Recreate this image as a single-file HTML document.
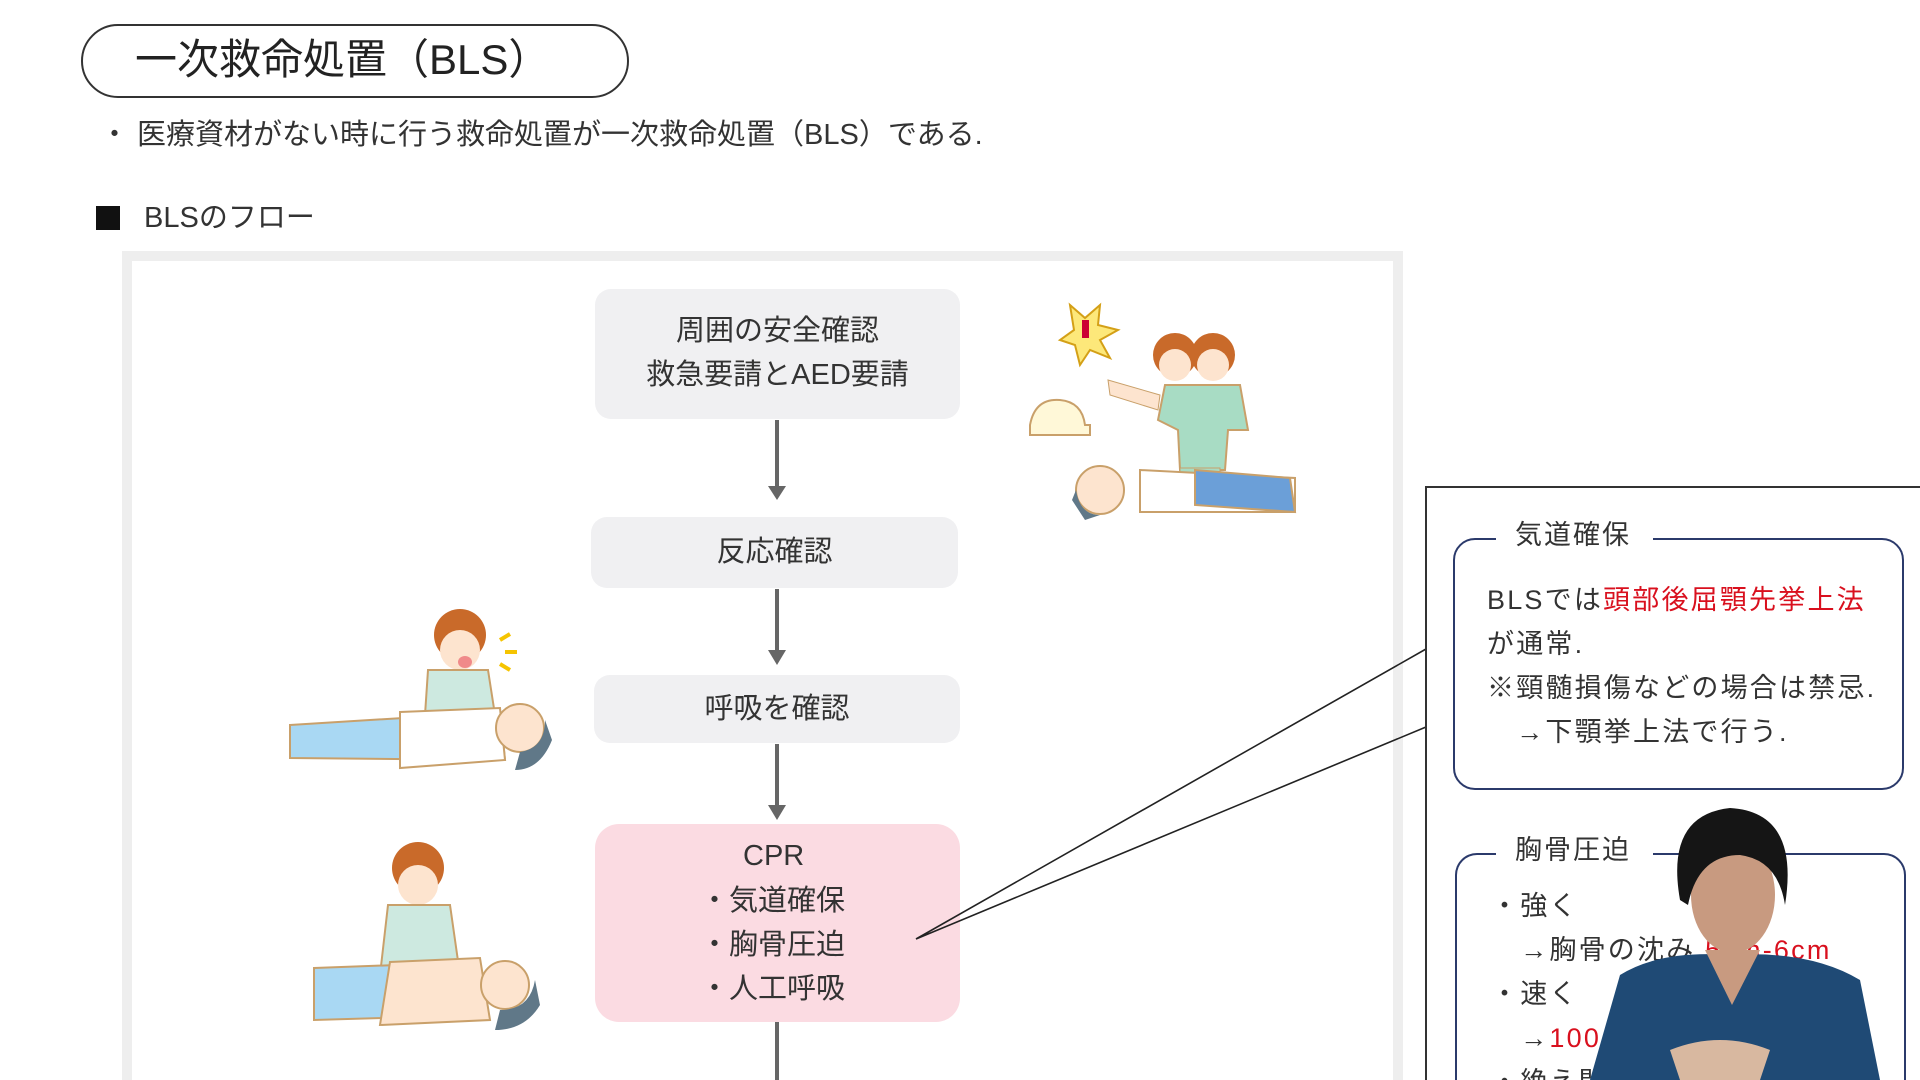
<!DOCTYPE html>
<html style="width:1920px;height:1080px;overflow:hidden"><head><meta charset="utf-8"><style>
*{margin:0;padding:0;box-sizing:border-box}
body{width:1920px;height:1080px;background:#fff;position:relative;overflow:hidden;font-family:"Liberation Sans","Noto Sans CJK JP",sans-serif;color:#333}
#w{position:absolute;left:0;top:0;width:1920px;height:1080px;overflow:hidden}
.a{position:absolute;white-space:nowrap}
.box{position:absolute;background:#f0f0f2;border-radius:16px;text-align:center;font-size:29px;line-height:44px;color:#333}
</style></head><body><div id="w">
<div class="a" style="left:81px;top:24px;width:548px;height:74px;border:2px solid #333;border-radius:37px"></div>
<div class="a" style="left:135px;top:34px;font-size:42px;line-height:52px;color:#222">一次救命処置（BLS）</div>
<div class="a" style="left:100px;top:116px;font-size:29px;line-height:38px">・ 医療資材がない時に行う救命処置が一次救命処置（BLS）である.</div>
<div class="a" style="left:96px;top:206px;width:24px;height:24px;background:#111"></div>
<div class="a" style="left:144px;top:199px;font-size:29px;line-height:38px">BLSのフロー</div>
<div class="a" style="left:122px;top:251px;width:1281px;height:829px;border:10px solid #eeeeee;border-bottom:none;background:#fff"></div>

<div class="box" style="left:595px;top:289px;width:365px;height:130px;padding-top:20px">周囲の安全確認<br>救急要請とAED要請</div>
<div class="box" style="left:591px;top:517px;width:367px;height:71px;padding-top:13px">反応確認</div>
<div class="box" style="left:594px;top:675px;width:366px;height:68px;padding-top:12px">呼吸を確認</div>
<div class="box" style="left:595px;top:824px;width:365px;height:198px;background:#fbdbe2;border-radius:24px"></div>
<div class="a" style="left:743px;top:834px;font-size:29px;line-height:44px">CPR</div>
<div class="a" style="left:700px;top:879px;font-size:29px;line-height:44px">・気道確保<br>・胸骨圧迫<br>・人工呼吸</div>

<svg class="a" style="left:0;top:0" width="1920" height="1080">
<g stroke="#666" stroke-width="4" fill="#666">
<line x1="777" y1="420" x2="777" y2="488"/><path d="M768 486 L786 486 L777 500Z" stroke="none"/>
<line x1="777" y1="589" x2="777" y2="652"/><path d="M768 650 L786 650 L777 665Z" stroke="none"/>
<line x1="777" y1="744" x2="777" y2="806"/><path d="M768 805 L786 805 L777 820Z" stroke="none"/>
<line x1="777" y1="1022" x2="777" y2="1080"/>
</g>
<polyline points="1426,649 916,939 1426,727" fill="none" stroke="#222" stroke-width="1.6"/>
<g>
<path d="M1070 305 L1085 318 L1100 305 L1098 325 L1118 330 L1100 340 L1110 358 L1090 350 L1080 365 L1075 345 L1060 340 L1074 330Z" fill="#fde87a" stroke="#d4a017" stroke-width="2"/>
<rect x="1082" y="320" width="7" height="18" fill="#c03"/>
<circle cx="1175" cy="355" r="22" fill="#c96a2a"/><circle cx="1213" cy="355" r="22" fill="#c96a2a"/>
<circle cx="1175" cy="365" r="16" fill="#fde4cf"/><circle cx="1213" cy="365" r="16" fill="#fde4cf"/>
<path d="M1165 385 L1240 385 L1248 430 L1228 430 L1225 470 L1180 470 L1178 430 L1158 420Z" fill="#a8dcc4" stroke="#c9a06a" stroke-width="2"/>
<path d="M1108 380 L1160 395 L1158 410 L1110 395Z" fill="#fde4cf" stroke="#c9a06a"/>
<rect x="1180" y="468" width="40" height="20" fill="#a8dcc4" stroke="#c9a06a"/>
<path d="M1030 425 Q1035 398 1060 400 Q1082 402 1085 425 L1090 425 L1090 435 L1030 435Z" fill="#fff8d8" stroke="#c9a06a" stroke-width="2"/>
<path d="M1140 470 L1295 478 L1295 512 L1140 512Z" fill="#fff" stroke="#c9a06a" stroke-width="2"/>
<path d="M1195 470 L1290 478 L1295 512 L1195 505Z" fill="#6b9fd8" stroke="#c9a06a" stroke-width="2"/>
<circle cx="1100" cy="490" r="24" fill="#fde4cf" stroke="#c9a06a" stroke-width="2"/>
<path d="M1076 490 Q1080 515 1100 515 L1085 520 L1072 500Z" fill="#607888"/>
</g>
<g>
<circle cx="460" cy="635" r="26" fill="#c96a2a"/><circle cx="460" cy="650" r="20" fill="#fde4cf"/>
<ellipse cx="465" cy="662" rx="7" ry="6" fill="#f08a8a"/>
<path d="M428 670 L488 670 L495 715 L425 715Z" fill="#cde9e0" stroke="#c9a06a" stroke-width="2"/>
<path d="M500 640 l10 -6 M505 652 l12 0 M500 664 l10 6" stroke="#f5c400" stroke-width="4"/>
<path d="M290 725 L500 712 L505 760 L290 758Z" fill="#a9d8f3" stroke="#c9a06a" stroke-width="2"/>
<path d="M400 712 L500 708 L505 760 L400 768Z" fill="#fff" stroke="#c9a06a" stroke-width="2"/>
<circle cx="520" cy="728" r="24" fill="#fde4cf" stroke="#c9a06a" stroke-width="2"/>
<path d="M520 752 Q545 748 545 720 L552 740 Q540 770 515 770Z" fill="#607888"/>
</g>
<g>
<circle cx="418" cy="868" r="26" fill="#c96a2a"/><circle cx="418" cy="885" r="20" fill="#fde4cf"/>
<path d="M388 905 L450 905 L460 975 L380 975Z" fill="#cde9e0" stroke="#c9a06a" stroke-width="2"/>
<path d="M314 968 L480 962 L485 1015 L314 1020Z" fill="#a9d8f3" stroke="#c9a06a" stroke-width="2"/>
<path d="M390 962 L480 958 L490 1020 L380 1025Z" fill="#fde4cf" stroke="#c9a06a" stroke-width="2"/>
<circle cx="505" cy="985" r="24" fill="#fde4cf" stroke="#c9a06a" stroke-width="2"/>
<path d="M500 1010 Q530 1010 535 980 L540 1005 Q525 1030 495 1030Z" fill="#607888"/>
</g>
</svg>

<div class="a" style="left:1425px;top:486px;width:495px;height:594px;border-left:2px solid #333;border-top:2px solid #333;background:#fff"></div>
<div class="a" style="left:1453px;top:538px;width:451px;height:252px;border:2px solid #2b3a6b;border-radius:22px"></div>
<div class="a" style="left:1496px;top:516px;width:157px;height:40px;background:#fff"></div>
<div class="a" style="left:1515px;top:517px;font-size:27px;line-height:36px;letter-spacing:2px">気道確保</div>
<div class="a" style="left:1487px;top:578px;font-size:27px;line-height:44px;letter-spacing:2.2px">BLSでは<span style="color:#d9101e">頭部後屈顎先挙上法</span><br>が通常.<br>※頸髄損傷などの場合は禁忌.<br>　→下顎挙上法で行う.</div>
<div class="a" style="left:1455px;top:853px;width:451px;height:227px;border:2px solid #2b3a6b;border-bottom:none;border-radius:22px 22px 0 0"></div>
<div class="a" style="left:1496px;top:832px;width:157px;height:40px;background:#fff"></div>
<div class="a" style="left:1515px;top:832px;font-size:27px;line-height:36px;letter-spacing:2px">胸骨圧迫</div>
<div class="a" style="left:1491px;top:884px;width:420px;height:196px;overflow:hidden;font-size:27px;line-height:44px;letter-spacing:2.2px">・強く<br>　→胸骨の沈み <span style="color:#d9101e">5cm-6cm</span><br>・速く<br>　→<span style="color:#d9101e">100-120回/分</span><br>・絶え間なく</div>

<svg class="a" style="left:1580px;top:800px" width="340" height="280">
<path d="M10 280 L40 175 Q80 150 150 155 Q230 150 280 180 L300 280Z" fill="#1f4a75"/>
<path d="M125 150 L152 205 L180 150Z" fill="#c89a80"/>
<ellipse cx="153" cy="95" rx="42" ry="58" fill="#c89a80"/>
<path d="M100 100 Q85 15 150 8 Q220 12 205 105 Q198 60 160 55 Q118 55 108 105Z" fill="#151515"/>
<path d="M90 250 Q140 230 190 250 L180 280 L100 280Z" fill="#d8b8a0"/>
</svg>
</div></body></html>
